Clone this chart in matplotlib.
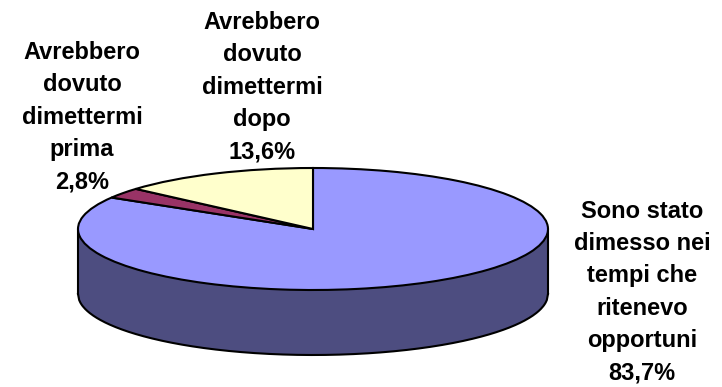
import numpy as np
import matplotlib
matplotlib.use('Agg')
import matplotlib.pyplot as plt

labels = ['Sono stato\ndimesso nei\ntempi che\nritenevo\nopportuni\n83,7%',
          'Avrebbero\ndovuto\ndimettermi\nprima\n2,8%',
          'Avrebbero\ndovuto\ndimettermi\ndopo\n13,6%']
values = [83.7, 2.8, 13.6]
colors = ['#9999ff', '#993366', '#ffffcc']
side_color = '#4d4d80'

W, H = 722, 387
cx, cy = 313, 229
rx, ry = 235, 61
depth = 65 / ry

fig = plt.figure(figsize=(W / 100, H / 100), dpi=100)
ax = fig.add_axes([0, 0, 1, 1])

# side wall first, then the flattened pie on top
xs = np.linspace(-1, 1, 400)
low = -np.sqrt(1 - xs**2)
ax.fill_between(xs, low - depth, low, color=side_color, ec='none', zorder=1)
ax.plot(xs, low - depth, color='k', lw=1.5, zorder=2)
ax.plot([-1, -1], [0, -depth], color='k', lw=1.5, zorder=2)
ax.plot([1, 1], [0, -depth], color='k', lw=1.5, zorder=2)

wedges, _ = ax.pie(values, colors=colors, startangle=90, counterclock=False,
                   wedgeprops=dict(ec='k', lw=1.5, zorder=3))

ax.set_aspect('auto')
ax.set_xlim(-cx / rx, (W - cx) / rx)
ax.set_ylim(-(H - cy) / ry, cy / ry)
ax.axis('off')

font = dict(family='Liberation Sans', fontsize=17, fontweight='bold', color='k',
            ha='center', va='center', linespacing=1.52)
pos = [(642, 292), (82, 117), (262, 87)]
for lab, (px, py) in zip(labels, pos):
    ax.text(px / W, 1 - py / H, lab, transform=ax.transAxes, **font)

fig.savefig('out.png', dpi=100)
